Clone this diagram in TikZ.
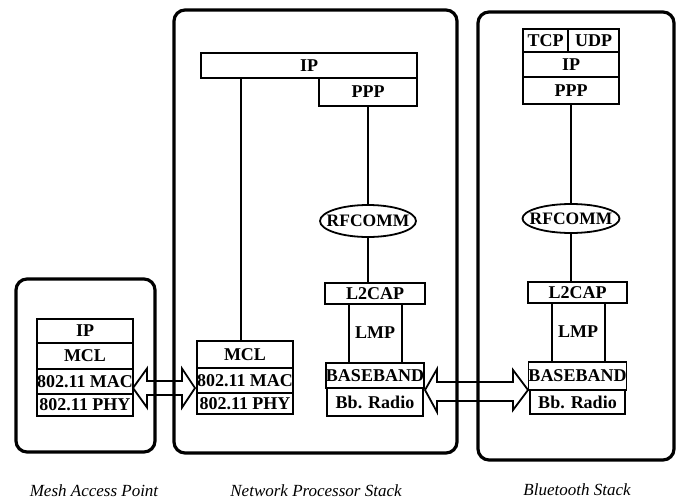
\documentclass[tikz,border=0pt]{standalone}
\usepackage{fontspec}
\setmainfont{Liberation Serif}
\usetikzlibrary{shapes.geometric}
\newcommand{\ovaltext}[1]{\raisebox{-0.33em}[0pt][0pt]{\makebox[0pt]{#1}}}
\begin{document}
\begin{tikzpicture}[x=1pt,y=-1pt,
 cont/.style={draw,line width=3.2pt,rounded corners=11pt},
 lay/.style={draw,line width=1.8pt,inner sep=0pt,font=\fontsize{18}{18}\selectfont\bfseries},
 lbl/.style={inner sep=0pt,font=\fontsize{18}{18}\selectfont\bfseries},
 oval/.style={draw,ellipse,line width=1.8pt,inner sep=0pt,font=\fontsize{17.5}{17.5}\selectfont\bfseries},
 conn/.style={line width=1.8pt},
 dbl/.style={draw,line width=1.8pt,line join=miter},
 captext/.style={inner sep=0pt,font=\fontsize{17}{17}\selectfont\itshape}]
\useasboundingbox (0,0) rectangle (682,500);

% containers
\draw[cont] (16,279) rectangle (155,452);
\draw[cont] (174,10) rectangle (457,453);
\draw[cont] (478,12) rectangle (674,460);

% Mesh access point stack
\node[lay,minimum width=96pt,minimum height=24pt] (mIP) at (85,331) {IP};
\node[lay,minimum width=96pt,minimum height=26pt] (mMCL) at (85,356) {MCL};
\node[lay,minimum width=96pt,minimum height=25pt] (mMAC) at (85,381.5) {802.11 MAC};
\node[lay,minimum width=96pt,minimum height=22pt] (mPHY) at (85,405) {802.11 PHY};

% Network processor stack
\node[lay,minimum width=216pt,minimum height=25pt] (nIP) at (309,65.5) {IP};
\node[lay,minimum width=98pt,minimum height=28pt] (nPPP) at (368,92) {PPP};
\node[oval,minimum width=96pt,minimum height=32pt] (nRF) at (368,221) {\ovaltext{RFCOMM}};
\node[lay,minimum width=100pt,minimum height=21pt] (nL2) at (375,293.5) {L2CAP};
\node[lbl] (nLMP) at (375,333) {LMP};
\node[lay,minimum width=96pt,minimum height=25pt] (nBB) at (375,375.5) {BASEBAND};
\node[lay,minimum width=96pt,minimum height=28pt] (nRad) at (375,402) {Bb. Radio};
\node[lay,minimum width=96pt,minimum height=27pt] (nMCL) at (245,354.5) {MCL};
\node[lay,minimum width=96pt,minimum height=25pt] (nMAC) at (245,380.5) {802.11 MAC};
\node[lay,minimum width=96pt,minimum height=21pt] (nPHY) at (245,403.5) {802.11 PHY};

% Bluetooth stack
\node[lay,minimum width=45pt,minimum height=23pt] (bTCP) at (545.5,40.5) {TCP};
\node[lay,minimum width=51pt,minimum height=23pt] (bUDP) at (593.5,40.5) {UDP};
\node[lay,minimum width=96pt,minimum height=25pt] (bIP) at (571,64.5) {IP};
\node[lay,minimum width=96pt,minimum height=27pt] (bPPP) at (571,90.5) {PPP};
\node[oval,minimum width=97pt,minimum height=29pt] (bRF) at (571,218.5) {\ovaltext{RFCOMM}};
\node[lay,minimum width=99pt,minimum height=21pt] (bL2) at (577.5,292.5) {L2CAP};
\node[lbl] (bLMP) at (578,332) {LMP};
\node[lay,minimum width=95pt,minimum height=28pt] (bBB) at (577.5,376) {BASEBAND};
\node[lay,minimum width=95pt,minimum height=24pt] (bRad) at (577.5,402) {Bb. Radio};

% connectors
\draw[conn] ([xshift=-4pt]nMCL.north) -- ([xshift=-4pt]nMCL.north |- nIP.south);
\draw[conn] (nPPP.south) -- (nRF.north);
\draw[conn] (nRF.south) -- (nRF.south |- nL2.north);
\draw[conn] ([xshift=-26pt]nL2.south) -- ([xshift=-26pt]nBB.north);
\draw[conn] ([xshift=27pt]nL2.south) -- ([xshift=27pt]nBB.north);
\draw[conn] (bPPP.south) -- (bRF.north);
\draw[conn] (bRF.south) -- (bRF.south |- bL2.north);
\draw[conn] ([xshift=-25.5pt]bL2.south) -- ([xshift=-25.5pt]bBB.north);
\draw[conn] ([xshift=27.5pt]bL2.south) -- ([xshift=27.5pt]bBB.north);

% double arrows
\draw[dbl] (133,388) -- (147,368.5) -- (147,381) -- (182,381) -- (182,368.5) -- (195,388)
  -- (182,407.5) -- (182,395) -- (147,395) -- (147,407.5) -- cycle;
\draw[dbl] (425,390) -- (437,369) -- (437,382) -- (513,382) -- (513,370) -- (528,390)
  -- (513,410) -- (513,401) -- (437,401) -- (437,412) -- cycle;

% captions
\node[captext] (cap1) at (94,491) {Mesh Access Point};
\node[captext] (cap2) at (316,491) {Network Processor Stack};
\node[captext] (cap3) at (577,490) {Bluetooth Stack};
\end{tikzpicture}
\end{document}
